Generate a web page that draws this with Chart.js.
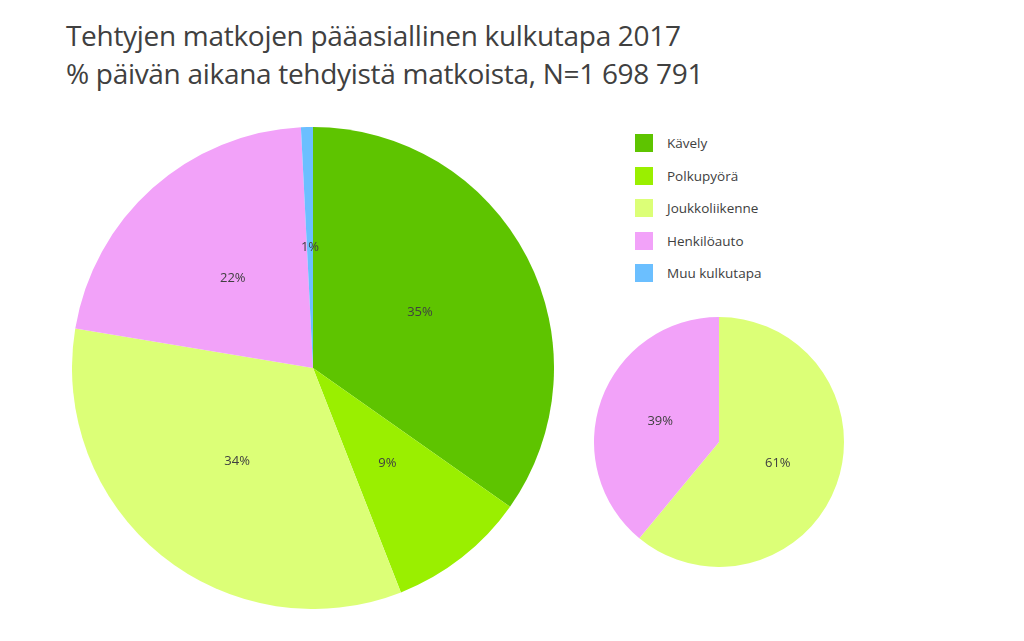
<!DOCTYPE html>
<html>
<head>
<meta charset="utf-8">
<script src="https://cdn.jsdelivr.net/npm/chart.js@4/dist/chart.umd.min.js"></script>
<style>
  body { margin: 0; background: #fff; width: 1024px; height: 641px; position: relative; overflow: hidden; }
  #title { position: absolute; left: 66px; top: 16px; font-family: "Open Sans", sans-serif; font-size: 28px; line-height: 38px; color: #404040; letter-spacing: -0.3px; }
  #legend { position: absolute; left: 635px; top: 134px; font-family: "Open Sans", sans-serif; font-size: 13.5px; color: #404040; }
  .item { height: 32.5px; display: flex; align-items: flex-start; }
  .box { width: 18px; height: 18px; margin-right: 14px; }
  .item span { line-height: 18px; }
  #big { position: absolute; left: 72px; top: 127px; }
  #small { position: absolute; left: 594px; top: 317px; }
</style>
</head>
<body>
<div id="title">Tehtyjen matkojen pääasiallinen kulkutapa 2017<br>% päivän aikana tehdyistä matkoista, N=1 698 791</div>
<div id="legend"></div>
<canvas id="big" width="482" height="482"></canvas>
<canvas id="small" width="250" height="250"></canvas>
<script>
// Travel modes, all trips
const categories = ['Kävely', 'Polkupyörä', 'Joukkoliikenne', 'Henkilöauto', 'Muu kulkutapa'];
const colors = ['#5EC400', '#9AEF00', '#DCFF77', '#F2A2F9', '#6BBFFF'];
const allTrips = [34.8, 9.3, 33.6, 21.6, 0.8];

// Motorised trips only (public transport vs car)
const smallCategories = ['Joukkoliikenne', 'Henkilöauto'];
const smallColors = ['#DCFF77', '#F2A2F9'];
const smallTrips = [61, 39];

// legend built from the category list
const legend = document.getElementById('legend');
categories.forEach((c, i) => {
  const row = document.createElement('div');
  row.className = 'item';
  row.innerHTML = `<div class="box" style="background:${colors[i]}"></div><span>${c}</span>`;
  legend.appendChild(row);
});

// draw percentage at half radius of each slice
const pctLabels = {
  id: 'pctLabels',
  afterDatasetsDraw(chart) {
    const ctx = chart.ctx;
    const meta = chart.getDatasetMeta(0);
    const data = chart.data.datasets[0].data;
    ctx.save();
    ctx.font = '13px "Open Sans", sans-serif';
    ctx.fillStyle = '#404040';
    ctx.textAlign = 'center';
    ctx.textBaseline = 'middle';
    meta.data.forEach((arc, i) => {
      const mid = (arc.startAngle + arc.endAngle) / 2;
      const r = arc.outerRadius * 0.5;
      const x = arc.x + Math.cos(mid) * r;
      const y = arc.y + Math.sin(mid) * r;
      ctx.fillText(Math.round(data[i]) + '%', x, y);
    });
    ctx.restore();
  }
};

const pieOptions = {
  responsive: false,
  animation: false,
  plugins: { legend: { display: false }, tooltip: { enabled: false } },
  layout: { padding: 0 }
};

new Chart(document.getElementById('big'), {
  type: 'pie',
  data: {
    labels: categories,
    datasets: [{ data: allTrips, backgroundColor: colors, borderWidth: 0 }]
  },
  options: pieOptions,
  plugins: [pctLabels]
});

new Chart(document.getElementById('small'), {
  type: 'pie',
  data: {
    labels: smallCategories,
    datasets: [{ data: smallTrips, backgroundColor: smallColors, borderWidth: 0 }]
  },
  options: pieOptions,
  plugins: [pctLabels]
});
</script>
</body>
</html>
